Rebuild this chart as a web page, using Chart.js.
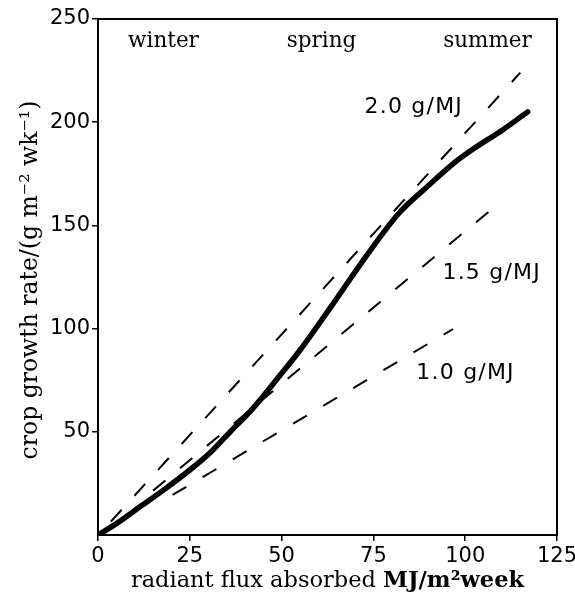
<!DOCTYPE html>
<html>
<head>
<meta charset="utf-8">
<script src="https://cdn.jsdelivr.net/npm/chart.js@4"></script>
<style>
html,body{margin:0;padding:0;background:#fff;}
#wrap{position:relative;width:575px;height:598px;}
</style>
</head>
<body>
<div id="wrap"><canvas id="c" width="575" height="598"></canvas></div>
<script>
// ---- data ----
const curveX = [0, 5, 11.7, 18, 25, 30, 36, 42, 48.5, 55, 64, 73, 82, 89.5, 97.5, 103, 110, 117];
const curveY = [0, 5.5, 14, 22, 31.5, 39, 50, 61, 75, 89.5, 112, 135, 156, 168.5, 181, 188, 196, 205];
const line20X = [3.5, 115];
const line20Y = [6.5, 224];
const line15X = [15, 108];
const line15Y = [21.5, 159];
const line10X = [20.3, 96.7];
const line10Y = [19.4, 99.8];
const xTicks = [0, 25, 50, 75, 100, 125];
const yTicks = [50, 100, 150, 200, 250];
const seasonLabels = ["winter", "spring", "summer"];
const seasonAt = [8.2, 51.4, 94];            // x value where each season word starts
const rateLabels = ["2.0 g/MJ", "1.5 g/MJ", "1.0 g/MJ"];
const rateLabelX = [72.6, 93.8, 86.7];
const rateLabelY = [204.5, 124, 75.6];
const xTitleA = "radiant flux absorbed ";
const xTitleB = "MJ/m\u00B2week";
const yTitle = "crop growth rate/(g m\u207B\u00B2 wk\u207B\u00B9)";

const pts = (xs, ys) => xs.map((x, i) => ({x: x, y: ys[i]}));

const SERIF = '"DejaVu Serif", "Liberation Serif", serif';
const SANS = '"DejaVu Sans", "Liberation Sans", sans-serif';

const decor = {
  id: 'decor',
  afterDatasetsDraw(chart) {
    const {ctx, chartArea: a, scales: {x, y}} = chart;
    ctx.save();
    // frame
    ctx.strokeStyle = '#000';
    ctx.lineWidth = 2;
    ctx.strokeRect(a.left, a.top, a.right - a.left, a.bottom - a.top);
    ctx.fillStyle = '#000';
    ctx.textAlign = 'left';
    ctx.textBaseline = 'alphabetic';
    // season words
    ctx.font = '21.5px ' + SERIF;
    seasonLabels.forEach((s, i) => {
      ctx.fillText(s, x.getPixelForValue(seasonAt[i]), y.getPixelForValue(236.4));
    });
    // rate labels
    ctx.font = '22px ' + SANS;
    ctx.letterSpacing = '1.2px';
    rateLabels.forEach((s, i) => {
      ctx.fillText(s, x.getPixelForValue(rateLabelX[i]), y.getPixelForValue(rateLabelY[i]));
    });
    ctx.letterSpacing = '0px';
    // x title (mixed weight)
    const fs = 22.5;
    ctx.font = fs + 'px ' + SERIF;
    const wA = ctx.measureText(xTitleA).width;
    ctx.font = 'bold ' + fs + 'px ' + SERIF;
    const wB = ctx.measureText(xTitleB).width;
    const cx = (a.left + a.right) / 2;
    const startX = cx - (wA + wB) / 2;
    ctx.font = fs + 'px ' + SERIF;
    ctx.fillText(xTitleA, startX, 587);
    ctx.font = 'bold ' + fs + 'px ' + SERIF;
    ctx.fillText(xTitleB, startX + wA, 587);
    // y title
    ctx.font = '23.5px ' + SERIF;
    ctx.translate(31, (a.top + a.bottom) / 2 + 3);
    ctx.rotate(-Math.PI / 2);
    ctx.textAlign = 'center';
    ctx.textBaseline = 'middle';
    ctx.fillText(yTitle, 0, 0);
    ctx.restore();
  }
};

const dashed = (data) => ({
  data: data, borderColor: '#000', borderWidth: 2, borderDash: [16, 19],
  pointRadius: 0, showLine: true, fill: false, tension: 0
});

new Chart(document.getElementById('c'), {
  type: 'scatter',
  data: {
    datasets: [
      {data: pts(curveX, curveY), borderColor: '#000', borderWidth: 5.5, pointRadius: 0,
       showLine: true, fill: false, tension: 0.4, cubicInterpolationMode: 'monotone',
       borderCapStyle: 'round', borderJoinStyle: 'round'},
      dashed(pts(line20X, line20Y)),
      dashed(pts(line15X, line15Y)),
      dashed(pts(line10X, line10Y))
    ]
  },
  options: {
    responsive: false,
    animation: false,
    events: [],
    layout: {padding: {left: 0, right: 18, top: 19, bottom: 0}},
    plugins: {legend: {display: false}, tooltip: {enabled: false}},
    scales: {
      x: {
        type: 'linear', min: 0, max: 125,
        afterBuildTicks: (s) => { s.ticks = xTicks.map(v => ({value: v})); },
        afterFit: (s) => { s.height = 63; s.paddingLeft = 0; s.paddingRight = 0; },
        ticks: {color: '#000', font: {family: SANS, size: 21}, padding: 3, maxRotation: 0},
        grid: {drawOnChartArea: false, drawTicks: true, tickLength: 6, color: '#000', lineWidth: 1.5},
        border: {display: true, color: '#000', width: 2}
      },
      y: {
        type: 'linear', min: 0, max: 250,
        afterBuildTicks: (s) => { s.ticks = yTicks.map(v => ({value: v})); },
        afterFit: (s) => { s.width = 98; s.paddingTop = 0; s.paddingBottom = 0; },
        ticks: {color: '#000', font: {family: SANS, size: 21}, padding: 2},
        grid: {drawOnChartArea: false, drawTicks: true, tickLength: 6, color: '#000', lineWidth: 1.5},
        border: {display: true, color: '#000', width: 2}
      }
    }
  },
  plugins: [decor]
});
</script>
</body>
</html>
